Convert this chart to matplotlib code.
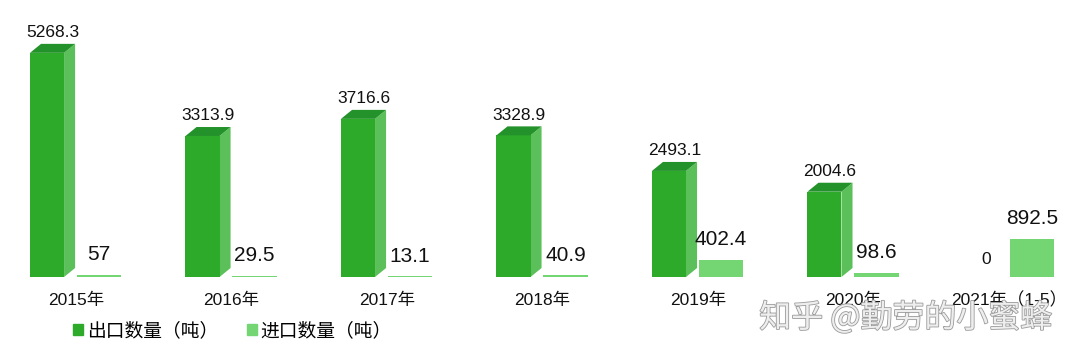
import matplotlib
matplotlib.use("Agg")
import matplotlib.pyplot as plt
from matplotlib.patches import Polygon, Patch
import matplotlib.patheffects as pe

plt.rcParams['font.family'] = ['Liberation Sans', 'Noto Sans CJK SC', 'DejaVu Sans']

categories = ['2015年', '2016年', '2017年', '2018年', '2019年', '2020年', '2021年（1-5）']
export_vals = [5268.3, 3313.9, 3716.6, 3328.9, 2493.1, 2004.6, 0]
import_vals = [57, 29.5, 13.1, 40.9, 402.4, 98.6, 892.5]
export_labels = ['5268.3', '3313.9', '3716.6', '3328.9', '2493.1', '2004.6', '0']
import_labels = ['57', '29.5', '13.1', '40.9', '402.4', '98.6', '892.5']
legend_names = ['出口数量（吨）', '进口数量（吨）']

C_FRONT = '#2eaa2b'
C_SIDE = '#5cc05a'
C_TOP = '#24922a'
C_IMP = '#74d672'

fig = plt.figure(figsize=(10.8, 3.59), dpi=100)
ax = fig.add_axes([0, 82/359, 1, 277/359])
ax.set_xlim(-0.489, 6.457)
ax.set_ylim(0, 6510)
for s in ax.spines.values():
    s.set_visible(False)
ax.set_yticks([])

ex0, ew = -0.296, 0.219
im0, iw = 0.005, 0.285
dx, dy = 0.071, 211

xs = list(range(len(categories)))
for i, (ev, iv) in enumerate(zip(export_vals, import_vals)):
    x0 = i + ex0
    x1 = x0 + ew
    if ev > 0:
        ax.bar(x0, ev, width=ew, align='edge', color=C_FRONT, zorder=3)
        ax.add_patch(Polygon([(x1, 0), (x1 + dx, dy), (x1 + dx, ev + dy), (x1, ev)],
                             closed=True, color=C_SIDE, zorder=2, lw=0))
        ax.add_patch(Polygon([(x0, ev), (x0 + dx, ev + dy), (x1 + dx, ev + dy), (x1, ev)],
                             closed=True, color=C_TOP, zorder=3, lw=0))
        ax.text(x0 + ew / 2 + 0.035, ev + dy + 90, export_labels[i], ha='center', va='bottom',
                fontsize=12.5, color='#111111')
    else:
        ax.text(x0 + ew / 2 + 0.04, 230, export_labels[i], ha='center', va='bottom',
                fontsize=12.5, color='#111111')
    ax.bar(i + im0, iv, width=iw, align='edge', color=C_IMP, zorder=3)
    ax.text(i + im0 + iw / 2, iv + 250, import_labels[i], ha='center', va='bottom',
            fontsize=15, color='#111111')

ax.set_xticks(xs)
ax.set_xticklabels(categories, fontsize=12.5, color='#111111')
ax.tick_params(axis='x', length=0, pad=11)

handles = [Patch(color=C_FRONT), Patch(color=C_IMP)]
fig.legend(handles, legend_names, loc='center left', bbox_to_anchor=(60/1080, 1 - 331/359),
           ncol=2, frameon=False, fontsize=13.5, handlelength=0.55, handleheight=0.55,
           handletextpad=0.2, columnspacing=1.5, borderpad=0.2)

fig.text(0.703, 1 - 318/359, '知乎 @勤劳的小蜜蜂', fontsize=23, color='#eeeeee',
         va='center', ha='left', family=['Noto Sans CJK SC', 'DejaVu Sans'],
         path_effects=[pe.withStroke(linewidth=1.2, foreground='#9a9a9a')], zorder=10)

fig.savefig('out.png', dpi=100)
